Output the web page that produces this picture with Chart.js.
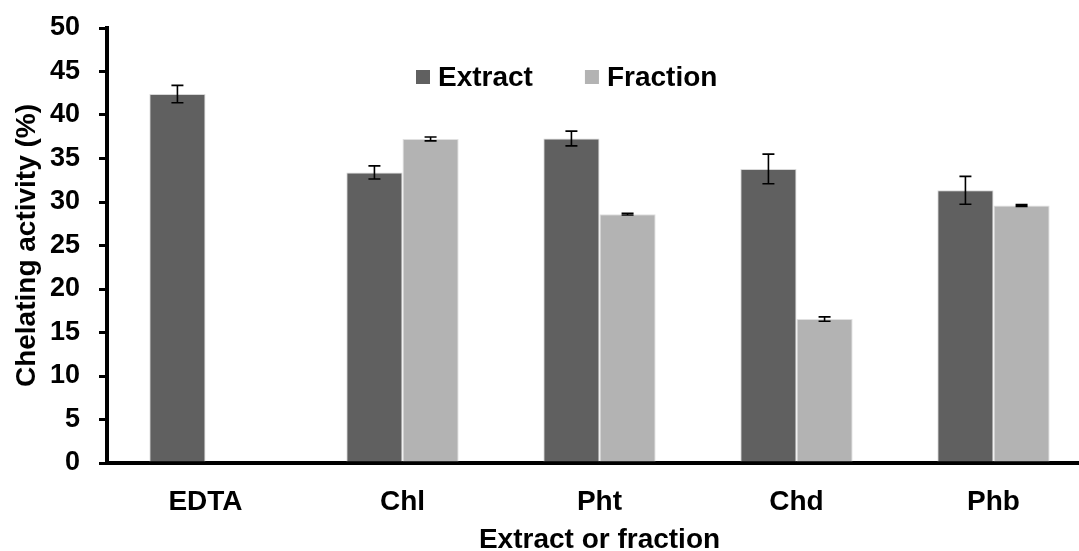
<!DOCTYPE html>
<html>
<head>
<meta charset="utf-8">
<script src="https://cdn.jsdelivr.net/npm/chart.js@4.4.1/dist/chart.umd.min.js"></script>
<style>
  html, body { margin:0; padding:0; background:#fff; overflow:hidden; width:1079px; height:551px; }
  #wrap { position:absolute; left:0; top:0; width:1092px; height:551px; }
</style>
</head>
<body>
<div id="wrap"><canvas id="c" width="1092" height="551"></canvas></div>
<script>
const categories = ['EDTA', 'Chl', 'Pht', 'Chd', 'Phb'];
const extract = [42.4, 33.4, 37.3, 33.8, 31.35];
const extractErr = [1.0, 0.75, 0.85, 1.7, 1.6];
const fraction = [null, 37.25, 28.6, 16.55, 29.6];
const fractionErr = [null, 0.22, 0.1, 0.25, 0.1];
const seriesNames = ['Extract', 'Fraction'];
const yTitle = 'Chelating activity (%)';
const xTitle = 'Extract or fraction';

const FONT = '"Liberation Sans", Arial, Helvetica, sans-serif';

const errorBars = {
  id: 'errorBars',
  afterDatasetsDraw(chart) {
    const ctx = chart.ctx;
    const ys = chart.scales.y;
    ctx.save();
    ctx.strokeStyle = '#000';
    ctx.lineWidth = 1.6;
    chart.data.datasets.forEach((ds, di) => {
      const meta = chart.getDatasetMeta(di);
      meta.data.forEach((bar, i) => {
        const v = ds.data[i], e = ds.errors[i];
        if (v == null || e == null) return;
        const yTop = ys.getPixelForValue(v + e);
        const yBot = ys.getPixelForValue(v - e);
        const x = bar.x;
        ctx.beginPath();
        ctx.moveTo(x, yTop); ctx.lineTo(x, yBot);
        ctx.moveTo(x - 6, yTop); ctx.lineTo(x + 6, yTop);
        ctx.moveTo(x - 6, yBot); ctx.lineTo(x + 6, yBot);
        ctx.stroke();
      });
    });
    ctx.restore();
  }
};

const customLegend = {
  id: 'customLegend',
  afterDraw(chart) {
    const ctx = chart.ctx;
    ctx.save();
    ctx.font = 'bold 28px ' + FONT;
    ctx.textBaseline = 'middle';
    ctx.textAlign = 'left';
    let x = 416;
    const yc = 77;
    chart.data.datasets.forEach(ds => {
      ctx.fillStyle = ds.backgroundColor;
      ctx.fillRect(x, yc - 7, 14, 14);
      x += 22;
      ctx.fillStyle = '#000';
      ctx.fillText(ds.label, x, yc + 1);
      x += ctx.measureText(ds.label).width + 52;
    });
    ctx.restore();
  }
};

new Chart(document.getElementById('c'), {
  type: 'bar',
  data: {
    labels: categories,
    datasets: [
      { label: seriesNames[0], data: extract, errors: extractErr, backgroundColor: '#606060', borderColor: '#d8d8d8', borderWidth: 1, categoryPercentage: 0.57, barPercentage: 1.0 },
      { label: seriesNames[1], data: fraction, errors: fractionErr, backgroundColor: '#b3b3b3', borderColor: '#e0e0e0', borderWidth: 1, categoryPercentage: 0.57, barPercentage: 1.0 }
    ]
  },
  options: {
    responsive: false,
    animation: false,
    devicePixelRatio: 1,
    layout: { padding: { left: 0, right: 0, top: 28, bottom: 0 } },
    plugins: { legend: { display: false }, tooltip: { enabled: false } },
    scales: {
      x: {
        grid: { display: true, drawOnChartArea: false, drawTicks: false },
        border: { display: true, color: '#000', width: 4 },
        ticks: { color: '#000', font: { family: FONT, size: 28, weight: 'bold' }, padding: 22, maxRotation: 0 },
        title: { display: true, text: xTitle, color: '#000', font: { family: FONT, size: 28, weight: 'bold', lineHeight: 0.8 }, padding: { top: 0, bottom: 0 } },
        afterFit(s) { s.height = 88; s.paddingLeft = 0; s.paddingRight = 0; }
      },
      y: {
        min: 0, max: 50,
        grid: { display: true, drawOnChartArea: false, drawTicks: true, tickLength: 8, color: '#000', lineWidth: 3 },
        border: { display: true, color: '#000', width: 4 },
        ticks: { stepSize: 5, color: '#000', font: { family: FONT, size: 27, weight: 'bold' }, padding: 19 },
        title: { display: true, text: yTitle, color: '#000', font: { family: FONT, size: 28, weight: 'bold' }, padding: { top: 10, bottom: 0 } },
        afterFit(s) { s.width = 107; s.paddingTop = 0; s.paddingBottom = 0; }
      }
    }
  },
  plugins: [errorBars, customLegend]
});
</script>
</body>
</html>
